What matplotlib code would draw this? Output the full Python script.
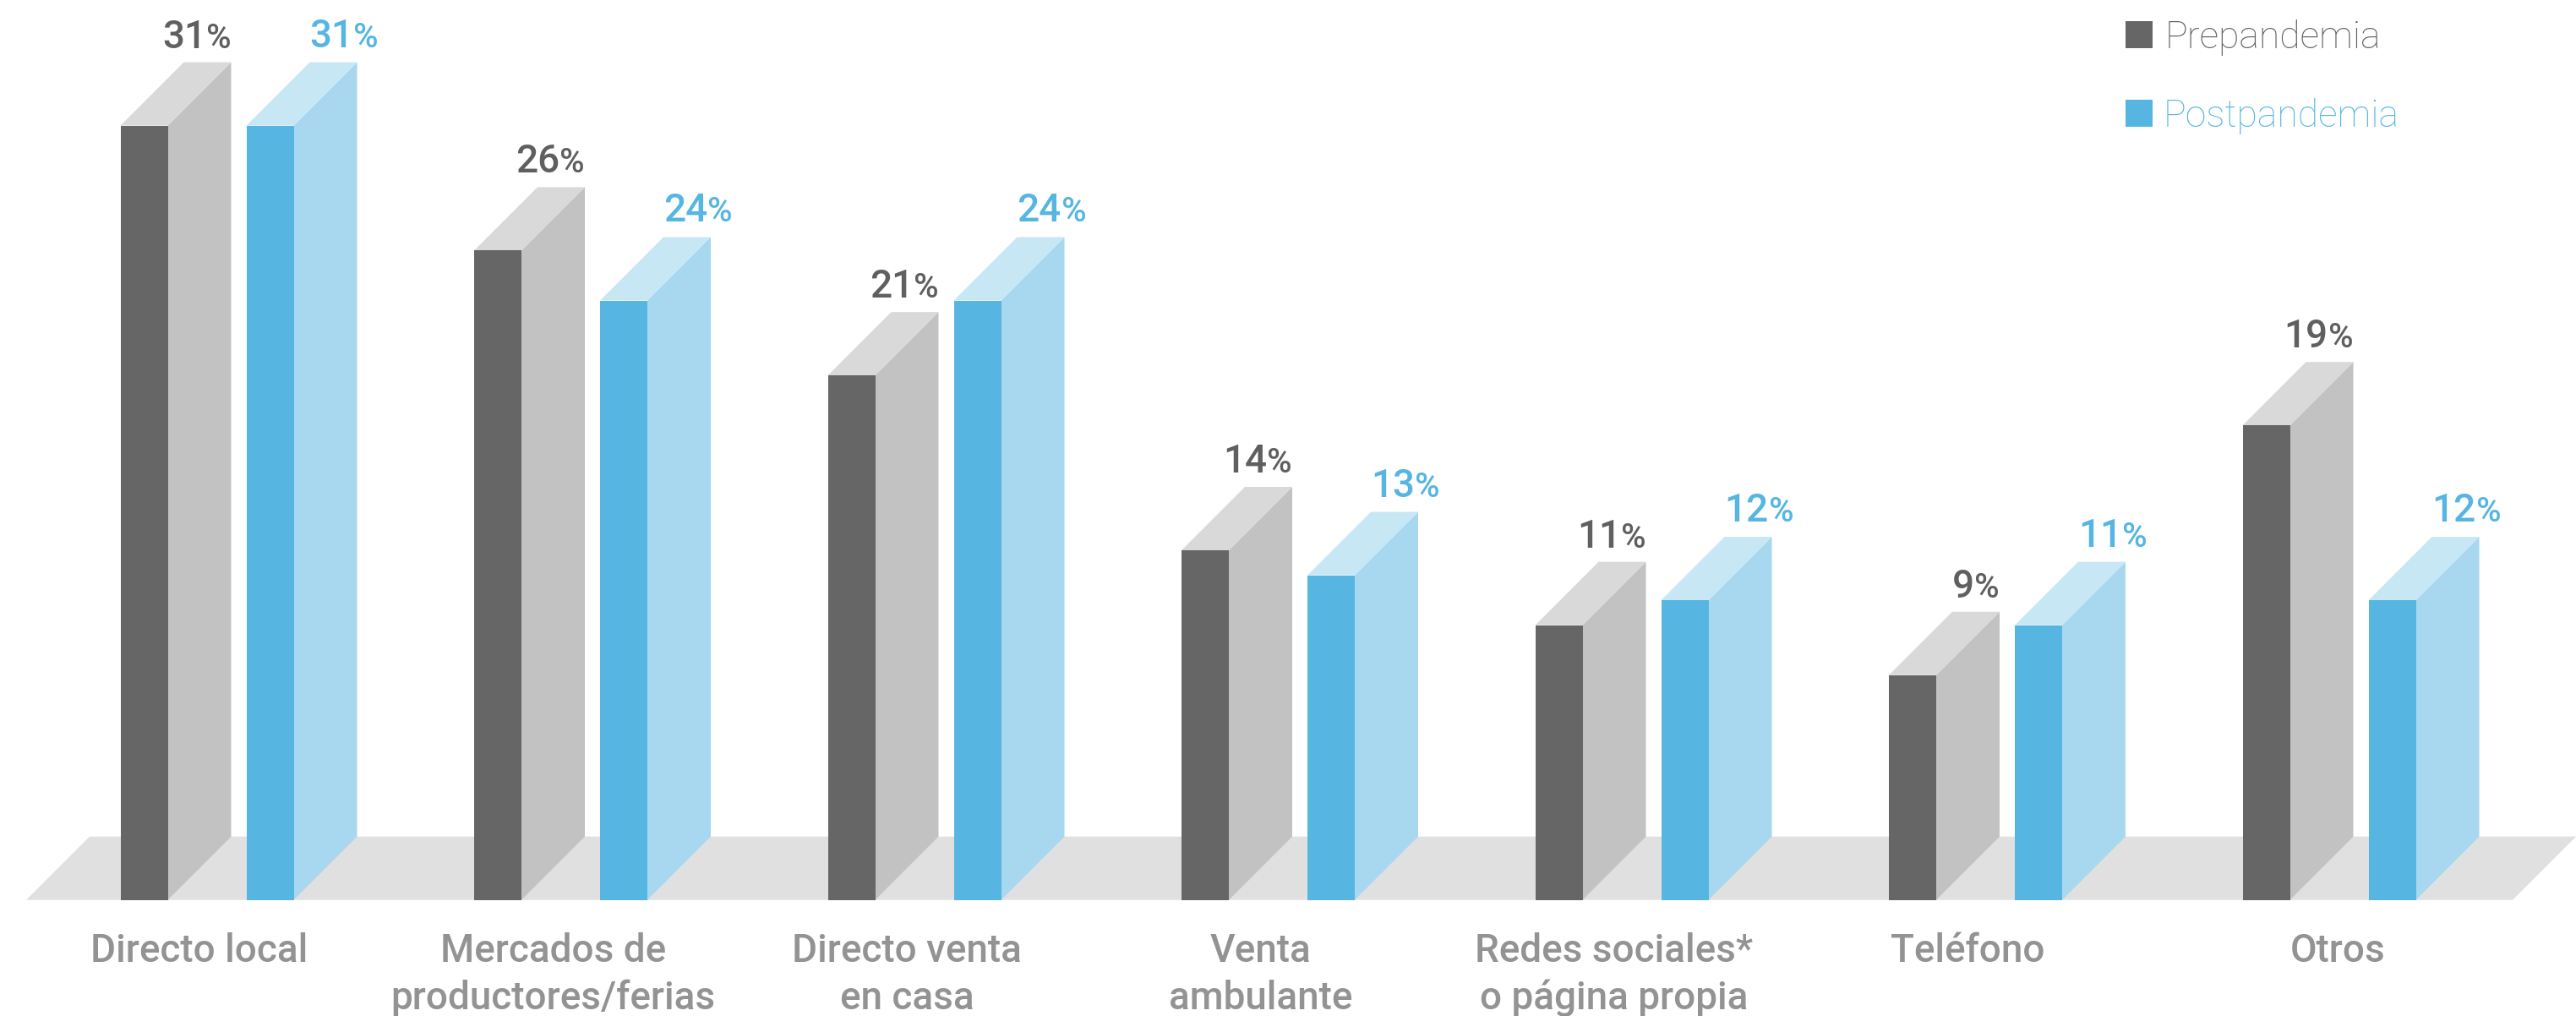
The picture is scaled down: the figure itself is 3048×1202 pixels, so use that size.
import matplotlib
matplotlib.use("Agg")
import matplotlib.pyplot as plt
from matplotlib.patches import Polygon, Rectangle

categories = ["Directo local", "Mercados de\nproductores/ferias", "Directo venta\nen casa",
              "Venta\nambulante", "Redes sociales*\no página propia", "Teléfono", "Otros"]
prepandemia = [31, 26, 21, 14, 11, 9, 19]
postpandemia = [31, 24, 24, 13, 12, 11, 12]
series_names = ["Prepandemia", "Postpandemia"]

W, H = 3048, 1202
BASE_Y = 1064.7     # baseline of the bars, px from top
PX_PER_PCT = 29.55
GROUP_STEP = 418.5
FIRST_BAR = 142.5
DEPTH = 75.0        # oblique depth of the 3d look, px
BAR_W = 56.0
BLUE_OFFSET = 149.0

DARK = ("#666666", "#c2c2c2", "#d9d9d9")
BLUE = ("#56b6e1", "#a7d8ef", "#c8e7f4")
FLOOR = "#e0e0e0"
LABEL_GREY = "#939393"
TXT_DARK = "#5f5f5f"
TXT_BLUE = "#56b6e1"

plt.rcParams["font.family"] = ["Roboto", "Lato", "DejaVu Sans"]

# x axis runs in pixels, y axis in percent, so bars come straight from the values
fig = plt.figure(figsize=(W / 100, H / 100), dpi=100)
ax = fig.add_axes([0, 0, 1, 1])
ax.set_xlim(0, W)
ax.set_ylim(-(H - BASE_Y) / PX_PER_PCT, BASE_Y / PX_PER_PCT)
ax.axis("off")
depth_y = DEPTH / PX_PER_PCT


def py(pixel_y):
    return (BASE_Y - pixel_y) / PX_PER_PCT


def draw_bar(x, value, colors):
    front, side, top = colors
    ax.bar(x, value, width=BAR_W, align="edge", color=front, linewidth=0, zorder=3)
    ax.add_patch(Polygon([(x + BAR_W, 0), (x + BAR_W + DEPTH, depth_y),
                          (x + BAR_W + DEPTH, value + depth_y), (x + BAR_W, value)],
                         facecolor=side, linewidth=0, zorder=2))
    ax.add_patch(Polygon([(x, value), (x + DEPTH, value + depth_y),
                          (x + BAR_W + DEPTH, value + depth_y), (x + BAR_W, value)],
                         facecolor=top, linewidth=0, zorder=2))


def draw_value(x, y, value, color, right):
    # number and percent sign have different sizes, so they are placed side by side
    renderer = fig.canvas.get_renderer()
    num = ax.text(x, y, str(value), fontsize=33, fontweight="medium", color=color,
                  ha="left", va="baseline", zorder=5)
    pct = ax.text(x, y, "%", fontsize=29, fontweight="medium", color=color,
                  ha="left", va="baseline", zorder=5)
    num_w = num.get_window_extent(renderer).width
    pct_w = pct.get_window_extent(renderer).width
    start = x - num_w - pct_w if right else x
    num.set_x(start)
    pct.set_x(start + num_w)


ax.add_patch(Polygon([(31, 0), (31 + DEPTH, depth_y), (W, depth_y), (W - DEPTH, 0)],
                     facecolor=FLOOR, linewidth=0, zorder=1))

for i, name in enumerate(categories):
    x_dark = FIRST_BAR + i * GROUP_STEP
    x_blue = x_dark + BLUE_OFFSET
    draw_bar(x_dark, prepandemia[i], DARK)
    draw_bar(x_blue, postpandemia[i], BLUE)
    draw_value(x_dark + BAR_W + DEPTH, prepandemia[i] + depth_y + 17 / PX_PER_PCT,
               prepandemia[i], TXT_DARK, True)
    draw_value(x_blue + DEPTH, postpandemia[i] + depth_y + 18 / PX_PER_PCT,
               postpandemia[i], TXT_BLUE, False)

    # the last label sits a little further right than the others
    label_x = x_dark + 93.5 + (19 if i == len(categories) - 1 else 0)
    for j, line in enumerate(name.split("\n")):
        ax.text(label_x, py(1138 + j * 56), line, fontsize=33, fontweight="medium",
                color=LABEL_GREY, ha="center", va="baseline", zorder=5)

# legend
for j, (name, color, txt_x, sq_y) in enumerate(zip(series_names, [DARK[0], BLUE[0]], [2562, 2560], [57, 150])):
    ax.add_patch(Rectangle((2515, py(sq_y)), 32, 32 / PX_PER_PCT, facecolor=color, linewidth=0, zorder=5))
    ax.text(txt_x, py(sq_y), name, fontsize=32, fontweight="light",
            color=TXT_DARK if j == 0 else TXT_BLUE, ha="left", va="baseline", zorder=5)

fig.savefig("out.png", dpi=100, facecolor="white")
